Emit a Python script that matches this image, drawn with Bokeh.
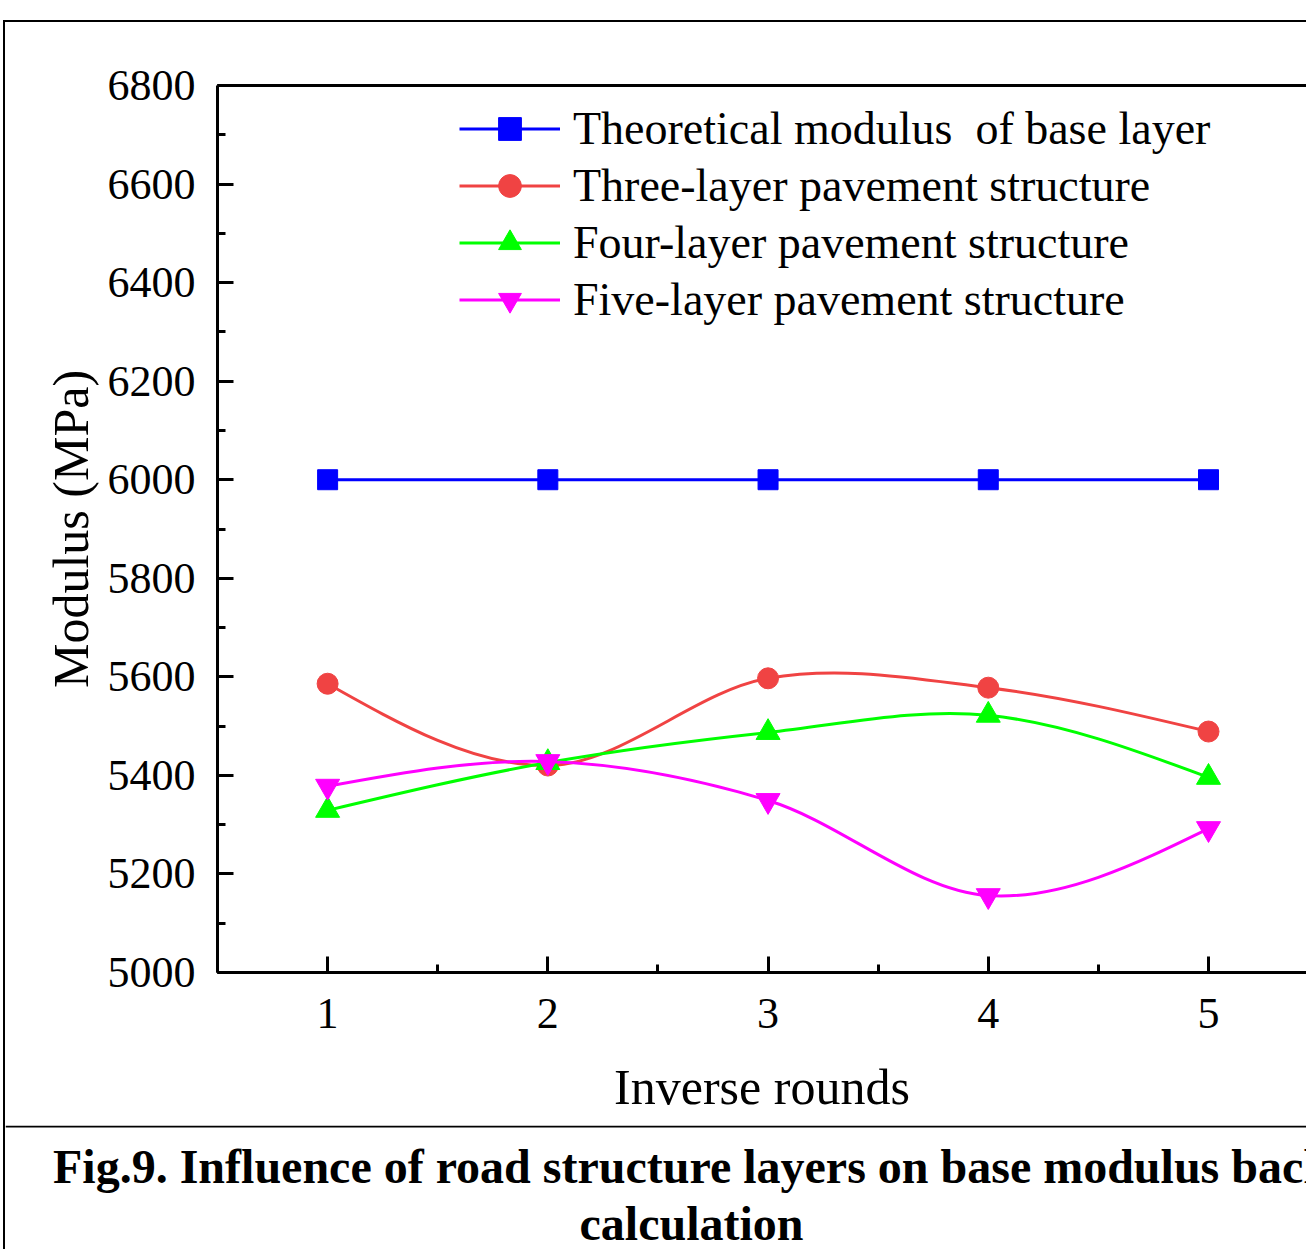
import numpy as np
from bokeh.plotting import figure
from bokeh.layouts import column
from bokeh.models import (Range1d, LinearAxis, SingleIntervalTicker, FixedTicker,
                          Legend, LegendItem, ColumnDataSource, Span)
from bokeh.core.properties import value
from bokeh.embed import file_html
from bokeh.resources import INLINE

# ---- data ----
rounds = [1, 2, 3, 4, 5]
theoretical = [6000, 6000, 6000, 6000, 6000]
three_layer = [5586, 5420, 5597, 5578, 5489]
four_layer = [5329, 5426, 5487, 5522, 5396]
five_layer = [5378, 5428, 5349, 5156, 5292]

names = ["Theoretical modulus  of base layer",
         "Three-layer pavement structure",
         "Four-layer pavement structure",
         "Five-layer pavement structure"]
colors = ["#0000FF", "#F04343", "#00FF00", "#FF00FF"]

x_label = "Inverse rounds"
y_label = "Modulus (MPa)"
caption1 = "Fig.9. Influence of road structure layers on base modulus back"
caption2 = "calculation"

FONT = "Liberation Serif"


def spline_segments(xs, ys):
    """Smooth (Catmull-Rom style) curve through the points as cubic Bezier segments."""
    x = np.asarray(xs, float)
    y = np.asarray(ys, float)
    n = len(x)
    h = np.diff(x)
    s = np.diff(y) / h
    m = np.zeros(n)
    for i in range(1, n - 1):
        m[i] = (y[i + 1] - y[i - 1]) / (x[i + 1] - x[i - 1])
    m[0] = (3 * s[0] - m[1]) / 2
    m[-1] = (3 * s[-1] - m[-2]) / 2
    x0 = x[:-1]; x1 = x[1:]; y0 = y[:-1]; y1 = y[1:]
    return dict(x0=x0, y0=y0, x1=x1, y1=y1,
                cx0=x0 + h / 3, cy0=y0 + h * m[:-1] / 3,
                cx1=x1 - h / 3, cy1=y1 - h * m[1:] / 3)


p = figure(width=1301, height=1103,
           x_range=Range1d(0.5, 5.445), y_range=Range1d(5000, 6800),
           output_backend="svg", toolbar_location=None,
           min_border_left=212, min_border_right=0,
           min_border_top=63, min_border_bottom=153)
p.frame_align = False
p.outline_line_color = None
p.grid.visible = False

for ax in (p.xaxis[0], p.yaxis[0]):
    ax.axis_line_width = 3
    ax.major_tick_in = 16
    ax.major_tick_out = 0
    ax.minor_tick_in = 8
    ax.minor_tick_out = 0
    ax.major_tick_line_width = 3
    ax.minor_tick_line_width = 3
    ax.major_label_text_font = FONT
    ax.major_label_text_font_size = "44px"
    ax.major_label_text_color = "black"
    ax.axis_label_text_font = FONT
    ax.axis_label_text_font_size = "50px"
    ax.axis_label_text_font_style = "normal"
    ax.axis_label_text_color = "black"

p.xaxis[0].ticker = SingleIntervalTicker(interval=1, num_minor_ticks=2)
p.yaxis[0].ticker = SingleIntervalTicker(interval=200, num_minor_ticks=2)
p.xaxis[0].axis_label = x_label
p.yaxis[0].axis_label = y_label
p.xaxis[0].major_label_standoff = 26
p.xaxis[0].axis_label_standoff = 28
p.yaxis[0].major_label_standoff = 22
p.yaxis[0].axis_label_standoff = 6

top = LinearAxis(ticker=FixedTicker(ticks=[]), axis_line_width=3,
                 major_tick_in=0, major_tick_out=0, minor_tick_in=0, minor_tick_out=0,
                 major_label_text_font_size="0px")
p.add_layout(top, "above")

items = []
r_line = p.line(rounds, theoretical, line_color=colors[0], line_width=3)
r_mark = p.scatter(rounds, theoretical, marker="square", size=20,
                   fill_color=colors[0], line_color=colors[0])
items.append(LegendItem(label=names[0], renderers=[r_line, r_mark]))

series = [(three_layer, "circle", 21), (four_layer, "triangle", 24),
          (five_layer, "inverted_triangle", 24)]
for k, (vals, mk, sz) in enumerate(series, start=1):
    seg = ColumnDataSource(spline_segments(rounds, vals))
    r_b = p.bezier(x0="x0", y0="y0", x1="x1", y1="y1", cx0="cx0", cy0="cy0",
                   cx1="cx1", cy1="cy1", source=seg, line_color=colors[k], line_width=3)
    r_m = p.scatter(rounds, vals, marker=mk, size=sz,
                    fill_color=colors[k], line_color=colors[k])
    items.append(LegendItem(label=names[k], renderers=[r_b, r_m]))

legend = Legend(items=items, location=(242, 644), padding=0, margin=0, spacing=0,
                glyph_width=101, glyph_height=57, label_height=57, label_standoff=13,
                label_text_font=FONT, label_text_font_size="46px",
                label_text_color="black",
                border_line_color=None, background_fill_alpha=0)
p.add_layout(legend, "center")

# ---- caption cell ----
cap = figure(width=1301, height=124, x_range=Range1d(0, 1301), y_range=Range1d(124, 0),
             output_backend="svg", toolbar_location=None,
             x_axis_location=None, y_axis_location=None,
             min_border=0, min_border_left=0, min_border_right=0,
             min_border_top=0, min_border_bottom=0)
cap.frame_align = False
cap.outline_line_color = None
cap.grid.visible = False
cap.add_layout(Span(location=1, dimension="width", line_color="black", line_width=2))
cap.text(x=[686, 686], y=[41, 98], text=[caption1, caption2],
         text_align="center", text_baseline="alphabetic",
         text_font=value(FONT), text_font_style="bold",
         text_font_size="48px", text_color="black")

layout = column(p, cap, spacing=0,
                styles={"margin-top": "20px", "margin-left": "3px",
                        "border-top": "2px solid black",
                        "border-left": "2px solid black"})

open("out.html", "w").write(file_html(layout, INLINE))
